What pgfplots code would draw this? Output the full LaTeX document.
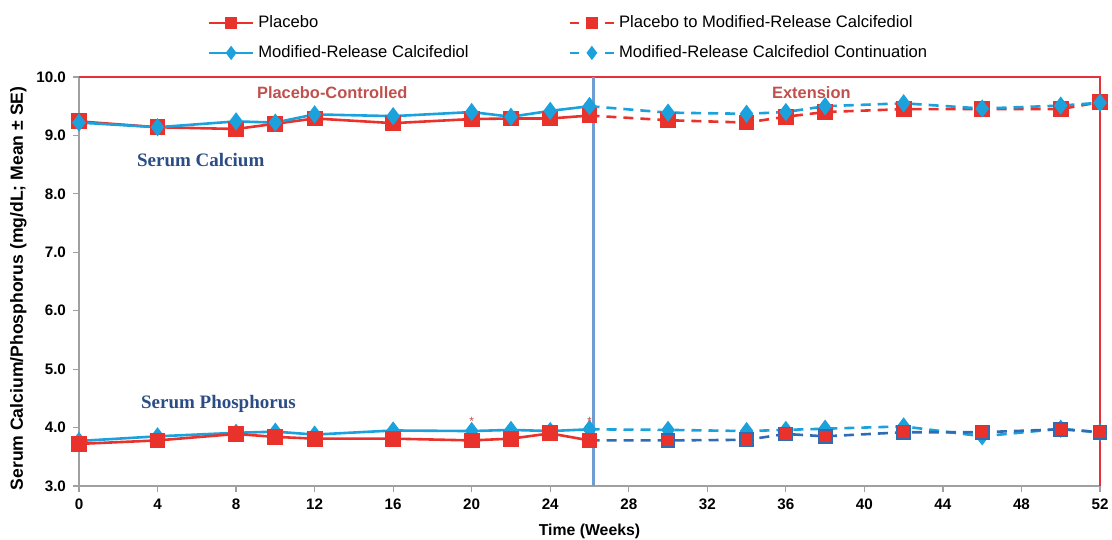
\documentclass[border=0pt]{standalone}
\usepackage{pgfplots}
\pgfplotsset{compat=1.18}
\usepackage{fontspec}
\setmainfont{Liberation Sans}
\newfontfamily\slabfont{Liberation Serif}
\definecolor{pred}{HTML}{E9322B}
\definecolor{mblue}{HTML}{1BA1DC}
\definecolor{dblue}{HTML}{2F6CB3}
\definecolor{vblue}{HTML}{6E9DD3}
\definecolor{framered}{HTML}{E8303A}
\definecolor{lblred}{HTML}{C0504D}
\definecolor{lblblue}{HTML}{2B4C85}
\definecolor{axgray}{HTML}{A0A0A0}
\begin{document}
\begin{tikzpicture}
\begin{axis}[name=ax, scale only axis, width=510.5pt, height=204.5pt,
  xmin=0, xmax=52, ymin=3, ymax=10,
  xtick={0,4,...,52}, ytick={3,4,...,10},
  yticklabel style={/pgf/number format/.cd,fixed,fixed zerofill,precision=1},
  /pgf/number format/assume math mode=true,
  axis x line*=bottom, axis y line*=left,
  axis line style={axgray, line width=0.9pt},
  tick style={axgray, line width=0.6pt}, tick align=outside, major tick length=3pt,
  ticklabel style={font=\fontsize{7.6}{9}\selectfont\bfseries},
  xlabel={Time (Weeks)}, ylabel={Serum Calcium/Phosphorus (mg/dL; Mean ± SE)},
  xlabel style={font=\fontsize{7.9}{9}\selectfont\bfseries},
  ylabel style={font=\fontsize{8.8}{10}\selectfont\bfseries, yshift=-2pt, xshift=-3.5pt},
  clip=false,
  legend columns=2, legend cell align=left,
  legend style={draw=none, fill=none, at={(0.12,1.02)}, anchor=south west,
    font=\fontsize{8.3}{9.5}\selectfont, row sep=3.5pt,
    /tikz/every even column/.append style={column sep=48pt}},
  legend image code/.code={\draw[#1] (0pt,0pt) -- (22pt,0pt);
    \draw[#1, solid] plot coordinates {(11pt,0pt)};},
]
\addlegendimage{pred, line width=1.2pt, mark=square*, mark size=2.4pt, mark options={solid}}
\addlegendentry{Placebo}
\addlegendimage{pred, line width=1.2pt, dash pattern=on 4.5pt off 13pt, mark=square*, mark size=2.4pt, mark options={solid}}
\addlegendentry{Placebo to Modified-Release Calcifediol}
\addlegendimage{mblue, line width=1.2pt, mark=diamond*, mark size=2.6pt, mark options={solid}}
\addlegendentry{Modified-Release Calcifediol}
\addlegendimage{mblue, line width=1.2pt, dash pattern=on 4.5pt off 13pt, mark=diamond*, mark size=2.6pt, mark options={solid}}
\addlegendentry{Modified-Release Calcifediol Continuation}

% frame and divider
\draw[framered, line width=0.7pt] (rel axis cs:0,1) -- (rel axis cs:1,1) -- (rel axis cs:1,0);
\draw[vblue, line width=1.2pt] (axis cs:26.2,3) -- (axis cs:26.2,10);

% ---- Calcium ----
\addplot[forget plot, pred, line width=1.3pt, dash pattern=on 5pt off 3.5pt, mark=square*, mark size=3.3pt, mark options={solid}]
coordinates {(26,9.34) (30,9.26) (34,9.22) (36,9.32) (38,9.40) (42,9.45) (46,9.45) (50,9.45) (52,9.57)};
\addplot[forget plot, mblue, line width=1.3pt, dash pattern=on 5pt off 3.5pt, mark=diamond*, mark size=3.5pt, mark options={solid}]
coordinates {(26,9.50) (30,9.39) (34,9.37) (36,9.40) (38,9.50) (42,9.55) (46,9.46) (50,9.51) (52,9.56)};
\addplot[forget plot, pred, line width=1.3pt, mark=square*, mark size=3.3pt]
coordinates {(0,9.24) (4,9.14) (8,9.11) (10,9.20) (12,9.29) (16,9.21) (20,9.28) (22,9.29) (24,9.29) (26,9.34)};
\addplot[forget plot, mblue, line width=1.3pt, mark=diamond*, mark size=3.5pt]
coordinates {(0,9.22) (4,9.14) (8,9.24) (10,9.22) (12,9.36) (16,9.33) (20,9.40) (22,9.32) (24,9.42) (26,9.50)};

% ---- Phosphorus ----
\addplot[forget plot, mblue, line width=1.3pt, dash pattern=on 5pt off 3.5pt, mark=diamond*, mark size=3.5pt, mark options={solid}]
coordinates {(26,3.97) (30,3.96) (34,3.94) (36,3.96) (38,3.98) (42,4.02) (46,3.85) (50,3.98) (52,3.92)};
\addplot[forget plot, dblue, line width=1.3pt, dash pattern=on 5pt off 3.5pt, mark=square*, mark size=3.3pt, mark options={solid, fill=pred, draw=dblue, line width=0.8pt}]
coordinates {(26,3.78) (30,3.78) (34,3.79) (36,3.89) (38,3.85) (42,3.92) (46,3.92) (50,3.97) (52,3.92)};
\addplot[forget plot, mblue, line width=1.3pt, mark=diamond*, mark size=3.5pt]
coordinates {(0,3.77) (4,3.85) (8,3.91) (10,3.93) (12,3.88) (16,3.95) (20,3.94) (22,3.96) (24,3.94) (26,3.97)};
\addplot[forget plot, pred, line width=1.3pt, mark=square*, mark size=3.3pt]
coordinates {(0,3.72) (4,3.78) (8,3.89) (10,3.84) (12,3.81) (16,3.81) (20,3.78) (22,3.81) (24,3.90) (26,3.78)};

% labels
\node[font=\fontsize{8.2}{10}\selectfont\bfseries, text=lblred] at (axis cs:12.9,9.73) {Placebo-Controlled};
\node[font=\fontsize{8.2}{10}\selectfont\bfseries, text=lblred] at (axis cs:37.3,9.73) {Extension};
\node[font=\slabfont\fontsize{9.5}{11}\selectfont\bfseries, text=lblblue] at (axis cs:6.2,8.58) {Serum Calcium};
\node[font=\slabfont\fontsize{9.5}{11}\selectfont\bfseries, text=lblblue] at (axis cs:7.1,4.40) {Serum Phosphorus};
\node[font=\fontsize{6}{6}\selectfont, text=lblred] at (axis cs:20,4.10) {*};
\node[font=\fontsize{6}{6}\selectfont, text=lblred] at (axis cs:26,4.10) {*};
\end{axis}
\pgfresetboundingbox
\path[use as bounding box] ([xshift=-39.5pt,yshift=-27pt]ax.south west) rectangle ([xshift=6pt,yshift=38.5pt]ax.north east);
\end{tikzpicture}
\end{document}
